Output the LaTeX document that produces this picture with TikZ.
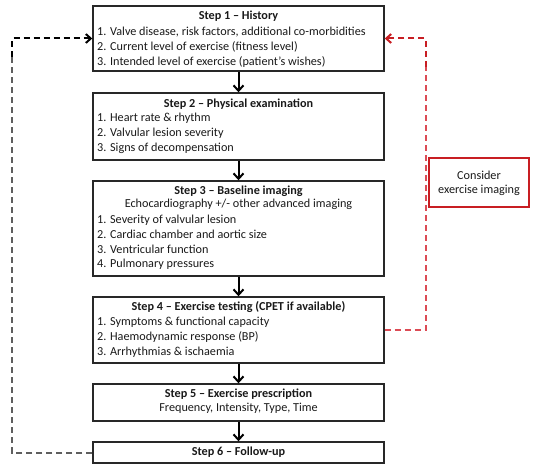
\documentclass[tikz,border=0pt]{standalone}
\usepackage{fontspec}
\setmainfont{Carlito}
\usetikzlibrary{arrows.meta}
\definecolor{boxline}{RGB}{40,40,40}
\definecolor{txt}{RGB}{25,25,25}
\definecolor{darkred}{RGB}{200,30,35}
\definecolor{lightred}{RGB}{220,75,85}
\definecolor{loopgrey}{RGB}{95,95,95}
\begin{document}
\begin{tikzpicture}[x=1pt,y=1pt,
  stepbox/.style={draw=boxline,line width=1.4pt,minimum width=291pt,inner sep=0pt},
  ttl/.style={font=\fontsize{12.2}{14}\selectfont\bfseries,text=txt,inner sep=0pt},
  itm/.style={font=\fontsize{12.2}{14}\selectfont,text=txt,inner sep=0pt,anchor=west},
  sub/.style={font=\fontsize{12.2}{14}\selectfont,text=txt,inner sep=0pt},
  flow/.style={line width=2pt,-{Straight Barb[length=5.5pt,width=10pt,line width=2pt]}},
  loopdash/.style={line width=2pt,dash pattern=on 6pt off 4pt},
  tipb/.style={-{Straight Barb[length=5pt,width=9pt,line width=2pt]}}
]
\useasboundingbox (0,0) rectangle (537,467);
% boxes
\node[stepbox,minimum height=65pt] (b1) at (238.5,428.5) {};
\node[stepbox,minimum height=67pt] (b2) at (238.5,340.5) {};
\node[stepbox,minimum height=95pt] (b3) at (238.5,238.5) {};
\node[stepbox,minimum height=66pt] (b4) at (238.5,137) {};
\node[stepbox,minimum height=37pt] (b5) at (238.5,64.5) {};
\node[stepbox,minimum height=21pt] (b6) at (238.5,14.5) {};
\node[draw=darkred,line width=2pt,minimum width=100pt,minimum height=49pt,inner sep=0pt] (cons) at (479,284.5) {};
% texts
\node[ttl] (t1) at (238.5,451) {Step 1 – History};
\node[itm] (t1a) at (97,435) {1. Valve disease, risk factors, additional co-morbidities};
\node[itm] (t1b) at (97,420) {2. Current level of exercise (fitness level)};
\node[itm] (t1c) at (97,405) {3. Intended level of exercise (patient’s wishes)};
\node[ttl] (t2) at (238.5,363) {Step 2 – Physical examination};
\node[itm] (t2a) at (97,349) {1. Heart rate \& rhythm};
\node[itm] (t2b) at (97,334) {2. Valvular lesion severity};
\node[itm] (t2c) at (97,319) {3. Signs of decompensation};
\node[ttl] (t3) at (238.5,276) {Step 3 – Baseline imaging};
\node[sub] (t3s) at (238.5,263) {Echocardiography +/- other advanced imaging};
\node[itm] (t3a) at (97,247) {1. Severity of valvular lesion};
\node[itm] (t3b) at (97,233) {2. Cardiac chamber and aortic size};
\node[itm] (t3c) at (97,218) {3. Ventricular function};
\node[itm] (t3d) at (97,203) {4. Pulmonary pressures};
\node[ttl] (t4) at (238.5,160) {Step 4 – Exercise testing (CPET if available)};
\node[itm] (t4a) at (97,145) {1. Symptoms \& functional capacity};
\node[itm] (t4b) at (97,130) {2. Haemodynamic response (BP)};
\node[itm] (t4c) at (97,115) {3. Arrhythmias \& ischaemia};
\node[ttl] (t5) at (238.5,73) {Step 5 – Exercise prescription};
\node[sub] (t5s) at (238.5,59) {Frequency, Intensity, Type, Time};
\node[ttl] (t6) at (238.5,15) {Step 6 – Follow-up};
\node[sub] (c1) at (479,292) {Consider};
\node[sub] (c2) at (479,277) {exercise imaging};
% flow arrows
\draw[flow] (b1.south) -- (b2.north);
\draw[flow] (b2.south) -- (b3.north);
\draw[flow] (b3.south) -- (b4.north);
\draw[flow] (b4.south) -- (b5.north);
\draw[flow] (b5.south) -- (b6.north);
% grey/black loop
\coordinate (gl) at (12,14.5);
\coordinate (gm) at (12,410);
\coordinate (gt) at (12,428.5);
\draw[loopdash,loopgrey] (b6.west) -- (gl) -- (gm);
\draw[loopdash,black,tipb] (gm) -- (gt) -- (b1.west);
% red loop
\coordinate (rb) at (425.5,137);
\coordinate (rm) at (425.5,400);
\coordinate (rt) at (425.5,428.5);
\draw[loopdash,lightred] (b4.east) -- (rb) -- (rm);
\draw[loopdash,darkred,tipb] (rm) -- (rt) -- (b1.east);
\end{tikzpicture}
\end{document}
